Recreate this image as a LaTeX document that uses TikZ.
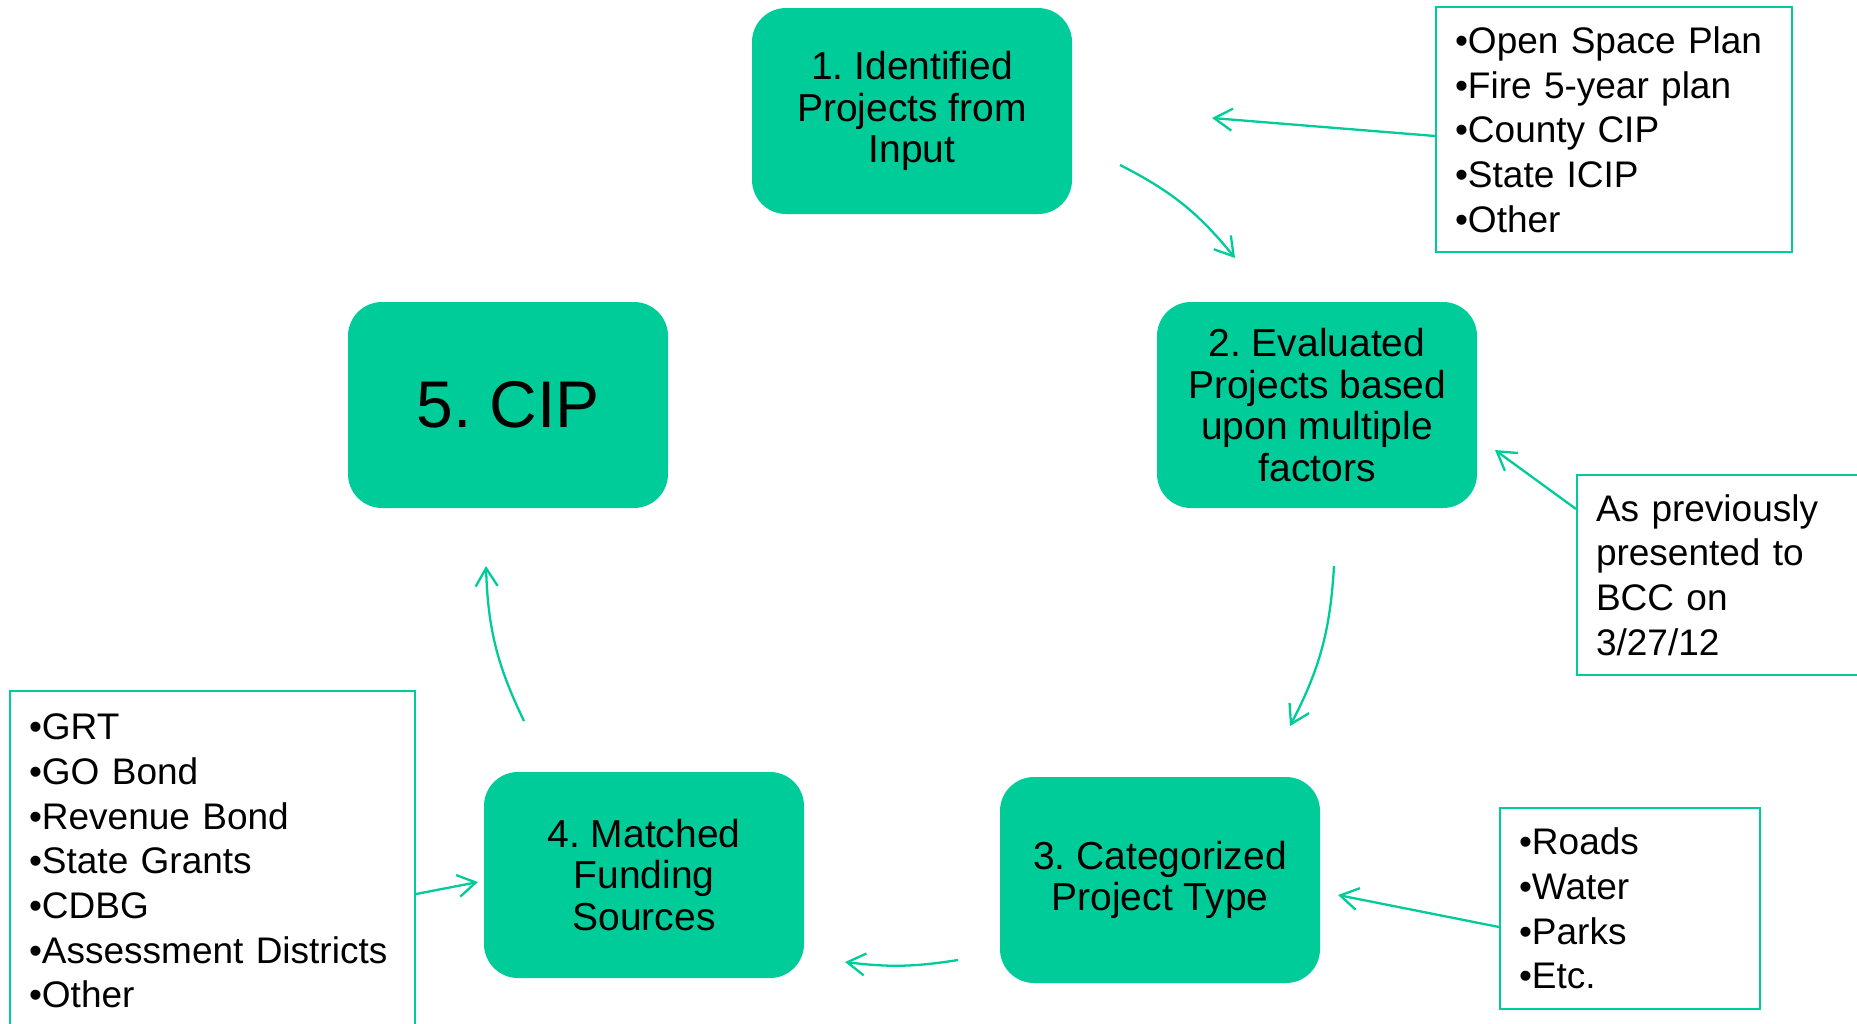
\documentclass[tikz,border=0pt]{standalone}
\usepackage{fontspec}
\setmainfont{Liberation Sans}
\usetikzlibrary{arrows.meta}
\definecolor{cipgreen}{HTML}{00CC99}
\frenchspacing

\begin{document}
\begin{tikzpicture}[x=1pt, y=-1pt,
    stepbox/.style={fill=cipgreen, rounded corners=34pt, minimum width=320pt, minimum height=206pt, inner sep=0pt, align=center, font=\fontsize{39pt}{41.5pt}\selectfont},
    listbox/.style={draw=cipgreen, line width=2pt, anchor=north west, align=left, inner xsep=19pt, inner ysep=0pt, font=\fontsize{37pt}{44.7pt}\selectfont},
    cycarrow/.style={draw=cipgreen, line width=2.3pt, -{Straight Barb[length=18pt,width=22pt]}, bend left=12},
    feedarrow/.style={draw=cipgreen, line width=2.3pt, -{Straight Barb[length=18pt,width=22pt]}}]
\useasboundingbox (0,0) rectangle (1857,1023);
\node[stepbox] (s1) at (912,111) {1. Identified\\Projects from\\Input};
\node[stepbox] (s2) at (1317,405) {2. Evaluated\\Projects based\\upon multiple\\factors};
\node[stepbox] (s3) at (1160,880) {3. Categorized\\Project Type};
\node[stepbox] (s4) at (644,875) {4. Matched\\Funding\\Sources};
\node[stepbox, font=\fontsize{66pt}{70pt}\selectfont] (s5) at (508,405) {5. CIP};
\node[listbox, text width=318pt, minimum height=245pt] (srcs) at (1435,6) {•Open Space Plan\\•Fire 5-year plan\\•County CIP\\•State ICIP\\•Other};
\node[listbox, text width=262pt, minimum height=200pt] (bcc) at (1576,474) {As previously\\presented to\\BCC on\\3/27/12};
\node[listbox, text width=222pt, minimum height=201pt] (types) at (1499,807) {•Roads\\•Water\\•Parks\\•Etc.};
\node[listbox, text width=367pt, minimum height=340pt] (funds) at (9,690) {•GRT\\•GO Bond\\•Revenue Bond\\•State Grants\\•CDBG\\•Assessment Districts\\•Other};
\coordinate (c12a) at (1120,165);
\coordinate (c12b) at (1235,258);
\coordinate (c23a) at (1334,566);
\coordinate (c23b) at (1290,726);
\coordinate (c34a) at (958,960);
\coordinate (c34b) at (845,962);
\coordinate (c45a) at (524,721);
\coordinate (c45b) at (486,566);
\coordinate (t1) at (1212,118);
\coordinate (t2) at (1495,450);
\coordinate (t3) at (1338,895);
\coordinate (t4) at (478,882);
\draw[cycarrow] (c12a) to (c12b);
\draw[cycarrow] (c23a) to (c23b);
\draw[cycarrow, bend left=8] (c34a) to (c34b);
\draw[cycarrow] (c45a) to (c45b);
\draw[feedarrow] ([yshift=-6.5pt]srcs.west) -- (t1);
\draw[feedarrow] ([yshift=66pt]bcc.west) -- (t2);
\draw[feedarrow] ([yshift=-18.5pt]types.west) -- (t3);
\draw[feedarrow] ([yshift=-33pt]funds.east) -- (t4);
\end{tikzpicture}
\end{document}
